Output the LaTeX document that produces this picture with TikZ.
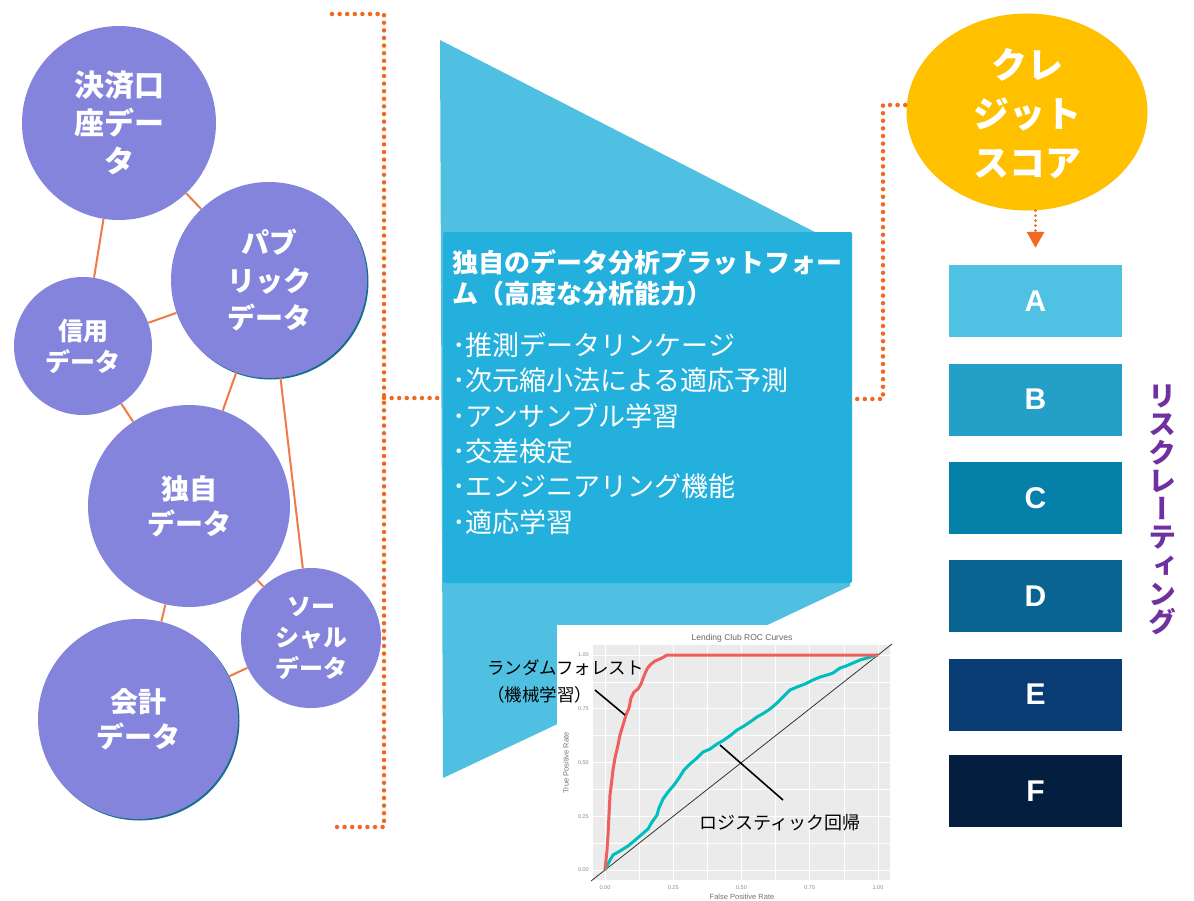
\documentclass[tikz,border=0pt]{standalone}
\usepackage{fontspec}
\usetikzlibrary{shapes.geometric,arrows.meta}
\setmainfont{Liberation Sans}
\newfontfamily\jp{Noto Sans CJK JP}
\newfontfamily\jpv{Noto Sans CJK JP}[RawFeature=+vert]
\definecolor{circ}{RGB}{132,132,220}
\definecolor{circshadow}{RGB}{20,110,140}
\definecolor{linkor}{RGB}{240,122,72}
\definecolor{dotor}{RGB}{242,104,32}
\definecolor{funnel}{RGB}{79,192,226}
\definecolor{platbox}{RGB}{36,176,220}
\definecolor{gold}{RGB}{255,192,0}
\definecolor{riskpurple}{RGB}{112,48,160}
\definecolor{gA}{RGB}{79,193,227}
\definecolor{gB}{RGB}{35,159,200}
\definecolor{gC}{RGB}{5,128,168}
\definecolor{gD}{RGB}{9,100,146}
\definecolor{gE}{RGB}{8,60,114}
\definecolor{gF}{RGB}{3,30,62}
\definecolor{panel}{RGB}{235,235,235}
\definecolor{rfred}{RGB}{240,95,95}
\definecolor{lrteal}{RGB}{0,190,190}
\tikzset{
  dat/.style={circle, fill=circ, text=white, align=center, inner sep=0pt},
  link/.style={draw=linkor, line width=2pt},
  dotline/.style={draw=dotor, line width=4.5pt, dash pattern=on 0pt off 7.6pt, line cap=round},
  finedot/.style={draw=dotor, line width=3pt, dash pattern=on 0pt off 5pt, line cap=round},
  grade/.style={rectangle, minimum width=173pt, minimum height=72pt, inner sep=0pt, text=white,
    font=\bfseries\fontsize{30}{30}\selectfont},
  ticklab/.style={text=black!45, font=\fontsize{5.5}{6}\selectfont, inner sep=0pt},
  grid major/.style={draw=white, line width=0.9pt},
  grid minor/.style={draw=white, line width=0.45pt},
}
\begin{document}
\begin{tikzpicture}[x=1pt,y=-1pt]
\useasboundingbox[fill=white] (0,0) rectangle (1194,900);

% ---------- funnel and platform box ----------
\fill[funnel] (440,40) -- (850,250) -- (850,586) -- (443,778) -- cycle;
\node[rectangle, fill=platbox, rounded corners=1.5pt, minimum width=409pt, minimum height=351pt, inner sep=0pt] (plat) at (647.5,407.5) {};
\node[anchor=west, align=left, text=white, inner sep=0pt,
      font=\jp\bfseries\fontsize{26}{31}\selectfont] (plattitle) at (452,277.5)
  {独自のデータ分析プラットフォー\\ム（高度な分析能力）};
\node[anchor=west, align=left, text=white, inner sep=0pt,
      font=\jp\fontsize{27}{35.4}\selectfont] (platlist) at (452,433.5)
  {･推測データリンケージ\\･次元縮小法による適応予測\\･アンサンブル学習\\･交差検定\\･エンジニアリング機能\\･適応学習};

% ---------- data circles ----------
\fill[circshadow] (270.5,281.5) circle (98);
\fill[circshadow] (139.5,720.5) circle (100);
\node[dat, minimum size=194pt, font=\jp\bfseries\fontsize{30}{38}\selectfont] (kessai) at (119,123) {決済口\\座デー\\タ};
\node[dat, minimum size=196pt, font=\jp\bfseries\fontsize{28}{37.5}\selectfont] (public) at (269,280) {パブ\\リック\\データ};
\node[dat, minimum size=138pt, font=\jp\bfseries\fontsize{25}{31}\selectfont] (shinyo) at (83,346) {信用\\データ};
\node[dat, minimum size=202pt, font=\jp\bfseries\fontsize{28}{35}\selectfont] (dokuji) at (189,506) {独自\\データ};
\node[dat, minimum size=140pt, font=\jp\bfseries\fontsize{24}{31}\selectfont] (social) at (311,638) {ソー\\シャル\\データ};
\node[dat, minimum size=200pt, font=\jp\bfseries\fontsize{28}{35}\selectfont] (kaikei) at (138,719) {会計\\データ};

\draw[link] (kessai) -- (shinyo);
\draw[link] (kessai) -- (public);
\draw[link] (shinyo) -- (public);
\draw[link] (shinyo) -- (dokuji);
\draw[link] (public) -- (dokuji);
\draw[link] (public) -- (social);
\draw[link] (dokuji) -- (social);
\draw[link] (dokuji) -- (kaikei);
\draw[link] (kaikei) -- (social);

% ---------- left bracket ----------
\coordinate (brTL) at (332,14);
\coordinate (brTR) at (384,14);
\coordinate (brBR) at (384,827);
\coordinate (brBL) at (332,827);
\coordinate (brMid) at (384,398);
\draw[dotline] (brTL) -- (brTR) -- (brBR) -- (brBL);
\draw[dotline] (brMid) -- (plat.west |- brMid);

% ---------- credit score ----------
\node[ellipse, fill=gold, minimum width=241pt, minimum height=197pt, inner sep=0pt] (score) at (1027,112) {};
\node[text=white, align=center, inner sep=0pt, font=\jp\bfseries\fontsize{36}{49}\selectfont] (scoretext) at (1027,114) {クレ\\ジット\\スコア};

% ---------- right bracket ----------
\coordinate (rbB) at (883,399);
\coordinate (rbT) at (883,105);
\draw[dotline] ([xshift=5pt]plat.east |- rbB) -- (rbB) -- (rbT) -- (score.west |- rbT);

% ---------- grades ----------
\node[grade, fill=gA] (gradeA) at (1035.5,301) {A};
\node[grade, fill=gB] (gradeB) at (1035.5,399.5) {B};
\node[grade, fill=gC] (gradeC) at (1035.5,498) {C};
\node[grade, fill=gD] (gradeD) at (1035.5,596) {D};
\node[grade, fill=gE] (gradeE) at (1035.5,694.5) {E};
\node[grade, fill=gF] (gradeF) at (1035.5,791) {F};

\draw[finedot, -{Triangle[width=17pt,length=16pt]}, shorten >=2pt]
  (score.south -| gradeA.north) -- ([yshift=15pt]gradeA.north);

\node[text=riskpurple, align=center, inner sep=0pt, font=\jpv\bfseries\fontsize{28}{28.3}\selectfont] (risk) at (1162,510)
  {リ\\ス\\ク\\レ\\ー\\テ\\ィ\\ン\\グ};

% ---------- ROC chart ----------
\fill[white] (557,625) rectangle (897,900);
\fill[panel] (593,645) rectangle (890,880);
\foreach \x in {639.1,707.4,775.6,843.9} \draw[grid minor] (\x,645) -- (\x,880);
\foreach \y in {843.1,789.4,735.6,681.9} \draw[grid minor] (593,\y) -- (890,\y);
\foreach \x in {605,673.25,741.5,809.75,878} \draw[grid major] (\x,645) -- (\x,880);
\foreach \y in {870,816.25,762.5,708.75,655} \draw[grid major] (593,\y) -- (890,\y);

\node[text=black!60, font=\fontsize{8.5}{9}\selectfont, inner sep=0pt] (roctitle) at (742,638) {Lending Club ROC Curves};
\node[ticklab, anchor=east] (y0) at (589,870) {0.00};
\node[ticklab, anchor=east] (y1) at (589,816.25) {0.25};
\node[ticklab, anchor=east] (y2) at (589,762.5) {0.50};
\node[ticklab, anchor=east] (y3) at (589,708.75) {0.75};
\node[ticklab, anchor=east] (y4) at (589,655) {1.00};
\node[ticklab] (x0) at (605,888) {0.00};
\node[ticklab] (x1) at (673.25,888) {0.25};
\node[ticklab] (x2) at (741.5,888) {0.50};
\node[ticklab] (x3) at (809.75,888) {0.75};
\node[ticklab] (x4) at (878,888) {1.00};
\node[text=black!55, rotate=90, font=\fontsize{7.5}{8}\selectfont, inner sep=0pt] (ylab) at (566,763) {True Positive Rate};
\node[text=black!55, font=\fontsize{7.5}{8}\selectfont, inner sep=0pt] (xlab) at (742,897) {False Positive Rate};

\draw[black!80, line width=0.8pt] (591,881) -- (892,644);

\draw[lrteal, line width=3pt, line join=round]
 (605,870) -- (609,862) -- (613,855) -- (620,851) -- (628,846) -- (634,841) -- (641,835) -- (648,829)
 -- (652,822) -- (657,815) -- (659,808) -- (663,799) -- (668,792) -- (674,785) -- (679,778) -- (684,770)
 -- (690,764) -- (697,758) -- (703,752) -- (710,749) -- (717,744) -- (724,740) -- (731,735) -- (737,730)
 -- (744,726) -- (750,722) -- (757,717) -- (764,713) -- (770,709) -- (777,703) -- (783,697) -- (790,690)
 -- (797,687) -- (805,684) -- (813,680) -- (820,677) -- (827,675) -- (833,673) -- (840,668) -- (846,666)
 -- (853,663) -- (860,660) -- (867,658) -- (873,656) -- (878,655);
\draw[rfred, line width=3pt, line join=round]
 (605,870) -- (606,860) -- (607,850) -- (608,835) -- (609,815) -- (610,795) -- (611,787) -- (613,770)
 -- (615,758) -- (618,745) -- (620,735) -- (623,725) -- (626,715) -- (629,708) -- (631,698) -- (634,692)
 -- (638,689) -- (641,684) -- (644,676) -- (647,669) -- (650,665) -- (655,661) -- (662,658) -- (667,655)
 -- (878,655);

% ---------- annotations ----------
\node[anchor=west, align=left, inner sep=0pt, font=\jp\fontsize{17.5}{27}\selectfont] (rflab) at (487,681.5)
  {ランダムフォレスト\\（機械学習）};
\coordinate (rfa) at (595,690);
\coordinate (rfpt) at (625,715);
\draw[black, line width=1.6pt] (rfa) -- (rfpt);

\node[inner sep=0pt, font=\jp\fontsize{18}{20}\selectfont] (lrlab) at (780,823) {ロジスティック回帰};
\coordinate (lra) at (720,745);
\coordinate (lrb) at (783,800);
\draw[black, line width=1.6pt] (lra) -- (lrb);
\end{tikzpicture}
\end{document}
